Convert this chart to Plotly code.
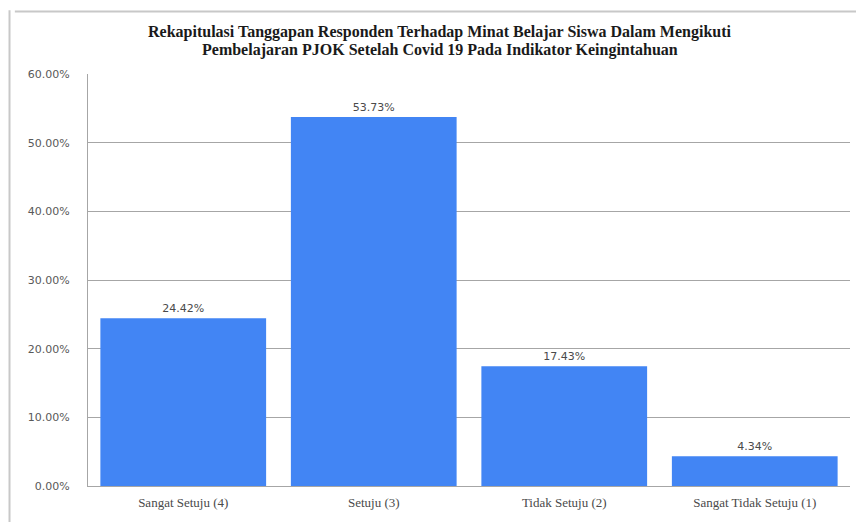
import plotly.graph_objects as go

categories = ["Sangat Setuju (4)", "Setuju (3)", "Tidak Setuju (2)", "Sangat Tidak Setuju (1)"]
values = [24.42, 53.73, 17.43, 4.34]
tick_vals = [0, 10, 20, 30, 40, 50, 60]
tick_text = ["0.00%", "10.00%", "20.00%", "30.00%", "40.00%", "50.00%", "60.00%"]
title_lines = ["Rekapitulasi Tanggapan Responden Terhadap Minat Belajar Siswa Dalam Mengikuti",
               "Pembelajaran PJOK Setelah Covid 19 Pada Indikator Keingintahuan"]

fig = go.Figure(go.Bar(
    x=categories, y=values,
    marker=dict(color="#4285F4", line=dict(width=0)),
    text=[f"{v:.2f}%" for v in values],
    textposition="outside",
    textfont=dict(family="DejaVu Sans", size=11, color="#4a4a4a"),
    cliponaxis=False,
    width=0.87,
))

fig.update_layout(
    width=856, height=522,
    margin=dict(l=88, r=6, t=74, b=36),
    paper_bgcolor="white", plot_bgcolor="white",
    showlegend=False,
    font=dict(family="Liberation Serif", size=11, color="#595959"),
    bargap=0.13,
)
for i, line in enumerate(title_lines):
    fig.add_annotation(text="<b>" + line + "</b>", xref="paper", yref="paper",
                       x=(440 - 88) / 762, y=1 + (74 - (32 + 18 * i)) / 412,
                       xanchor="center", yanchor="middle", showarrow=False,
                       font=dict(family="Liberation Serif", size=16, color="#1a1a1a"))

fig.update_yaxes(range=[0, 60], tickvals=tick_vals, ticktext=tick_text,
                 showgrid=True, gridcolor="#a6a6a6", gridwidth=1,
                 showline=True, linecolor="#a6a6a6", linewidth=1,
                 ticks="", ticklabelstandoff=15, zeroline=False,
                 tickfont=dict(family="DejaVu Sans", size=11, color="#595959"))
fig.update_xaxes(showline=True, linecolor="#a6a6a6", linewidth=1, ticks="",
                 ticklabelstandoff=4,
                 tickfont=dict(family="Liberation Serif", size=13, color="#4a4a4a"))

# screenshot frame lines (top and left)
fig.add_shape(type="line", xref="paper", yref="paper", x0=-0.096, x1=1.008, y0=1.152, y1=1.152,
              line=dict(color="#c8c8c8", width=2))
fig.add_shape(type="line", xref="paper", yref="paper", x0=-0.103, x1=-0.103, y0=-0.09, y1=1.155,
              line=dict(color="#c8c8c8", width=2))

fig.write_html("out.html", config={"displayModeBar": False},
               post_script="document.body.style.margin='0';document.body.style.overflow='hidden';")
